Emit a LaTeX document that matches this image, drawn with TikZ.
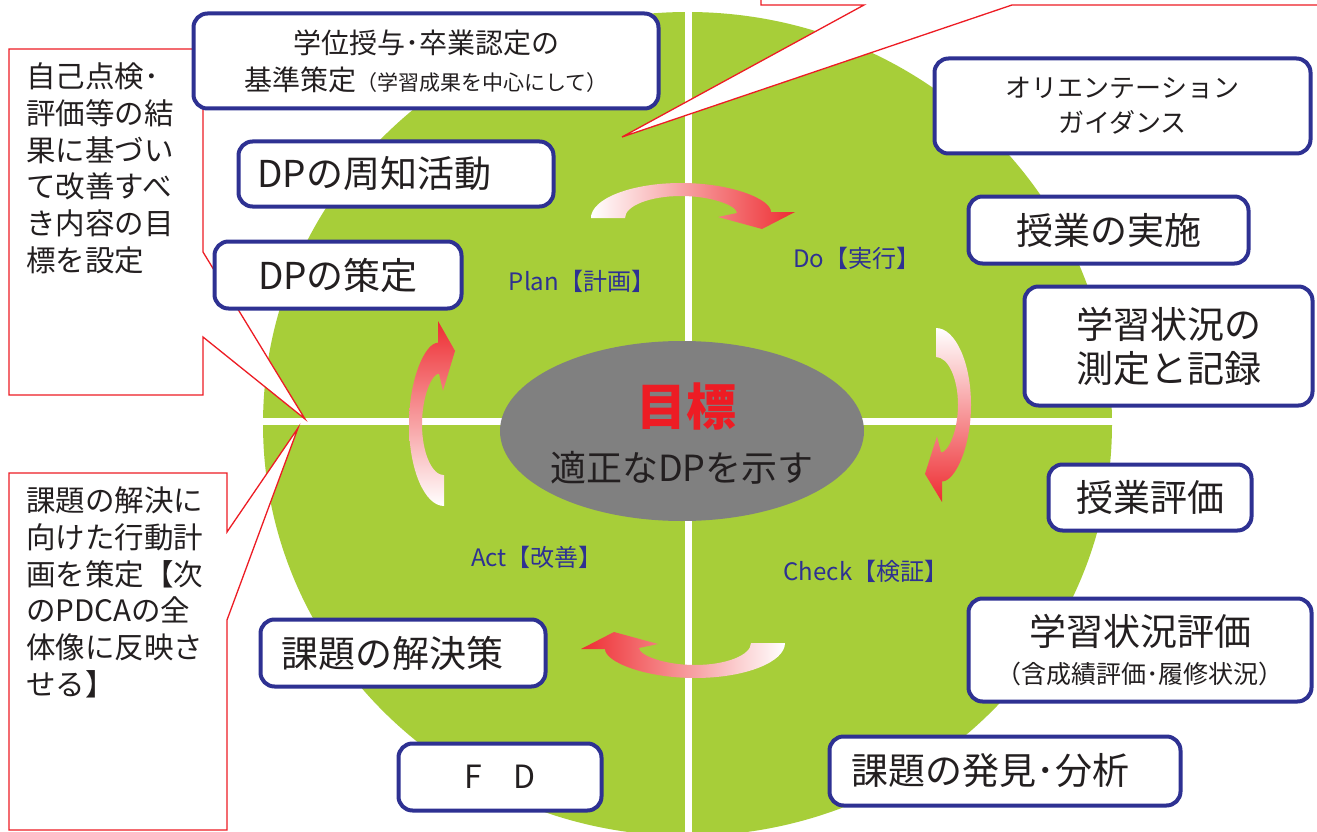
\documentclass[tikz,border=0pt]{standalone}
\usepackage{fontspec}
\setmainfont{Noto Sans CJK JP}
\usetikzlibrary{shapes.geometric}
\definecolor{leaf}{RGB}{167,206,57}
\definecolor{navy}{RGB}{46,49,146}
\definecolor{ink}{RGB}{35,31,32}
\definecolor{calred}{RGB}{237,28,36}
\definecolor{arrred}{RGB}{238,45,50}
\definecolor{goalgray}{RGB}{128,128,128}
\begin{document}
\begin{tikzpicture}[x=1pt,y=-1pt,
  box/.style={draw=navy, line width=4pt, fill=white, rounded corners=14pt, text=ink, inner sep=0pt, align=center},
  callout/.style={draw=calred, line width=1.3pt, fill=white, line join=miter},
  note/.style={text=ink, anchor=north west, inner sep=0pt, align=left, font=\fontsize{29.5}{36.7}\selectfont},
  phase/.style={text=navy, font=\fontsize{24}{28}\selectfont, inner sep=0pt},
  bigtxt/.style={font=\fontsize{37}{44}\selectfont},
  band/.style={draw=none}
]
\useasboundingbox (0,0) rectangle (1317,832);
\clip (0,0) rectangle (1317,832);
\fill[white] (0,0) rectangle (1317,832);

% green disc and white cross
\fill[leaf] (687.5,424) ellipse [x radius=424.5pt, y radius=412pt];
\draw[white, line width=7pt] (688,0) -- (688,832);
\draw[white, line width=7pt] (255,421) -- (1120,421);

% callouts
\draw[callout] (9,49) -- (203,49) -- (203,252) -- (305,419) -- (203,337) -- (203,395) -- (9,395) -- cycle;
\draw[callout] (9,473) -- (227,473) -- (227,532) -- (298,428) -- (227,620) -- (227,830) -- (9,830) -- cycle;
\draw[callout] (761,-10) -- (761,5) -- (864,5) -- (622,137) -- (1012,5) -- (1330,5) -- (1330,-10);

\node[note] (selfcheck) at (26,62.6) {自己点検･\\評価等の結\\果に基づい\\て改善すべ\\き内容の目\\標を設定};
\node[note] (actionplan) at (26,486.6) {課題の解決に\\向けた行動計\\画を策定【次\\のPDCAの全\\体像に反映さ\\せる】};

% centre goal
\node[ellipse, fill=goalgray, minimum width=364pt, minimum height=180pt, inner sep=0pt] (goal) at (682,431) {};
\node[text=calred, font=\fontsize{50}{60}\selectfont\bfseries, inner sep=0pt] (goaltitle) at (686,407) {目標};
\node[text=ink, font=\fontsize{36}{40}\selectfont, inner sep=0pt] (goalsub) at (682,468) {適正なDPを示す};

% cycle arrows
\shade[band, left color=white, right color=arrred]
 (591,218) .. controls (591,198.7) and (631.3,183) .. (681,183) .. controls (730.7,183) and (771,199) .. (771,212) -- (795,212) -- (762,229) -- (718,217) -- (737,213) .. controls (737,205.8) and (711.9,196) .. (681,196) .. controls (650.1,196) and (625,205.8) .. (625,218) -- cycle;
\shade[band, top color=white, bottom color=arrred]
 (936,328) .. controls (955.3,328) and (971,362.4) .. (971,404.8) .. controls (971,447.2) and (955,481.5) .. (942,481.5) -- (942,502) -- (925,473.9) -- (937,436.3) -- (941,452.5) .. controls (948.2,452.5) and (958,431.1) .. (958,404.8) .. controls (958,378.4) and (948.2,357) .. (936,357) -- cycle;
\shade[band, left color=arrred, right color=white]
 (785,643) .. controls (785,662.3) and (744.7,678) .. (695,678) .. controls (645.3,678) and (605,662) .. (605,649) -- (581,649) -- (614,632) -- (658,644) -- (639,648) .. controls (639,655.2) and (664.1,665) .. (695,665) .. controls (725.9,665) and (751,655.2) .. (751,643) -- cycle;
\shade[band, top color=arrred, bottom color=white]
 (444,506) .. controls (424.7,506) and (409,469.4) .. (409,424.4) .. controls (409,379.3) and (425,342.7) .. (438,342.7) -- (438,321) -- (455,350.9) -- (443,390.8) -- (439,373.6) .. controls (431.8,373.6) and (422,396.3) .. (422,424.4) .. controls (422,452.4) and (431.8,475.2) .. (444,475.2) -- cycle;

% phase labels
\node[phase] (plan) at (582,281) {Plan【計画】};
\node[phase] (do) at (857,258) {Do【実行】};
\node[phase] (check) at (866,571) {Check【検証】};
\node[phase] (act) at (537,557) {Act【改善】};

% boxes
\node[box, minimum width=465pt, minimum height=95pt, font=\fontsize{28}{37}\selectfont] (degree) at (426,61) {学位授与･卒業認定の\\基準策定{\fontsize{21}{25}\selectfont（学習成果を中心にして）}};
\node[box, bigtxt, minimum width=315pt, minimum height=65pt, text width=277pt, align=left] (inform) at (396,174) {DPの周知活動};
\node[box, bigtxt, minimum width=247pt, minimum height=67pt] (dpset) at (338,275) {DPの策定};
\node[box, minimum width=376pt, minimum height=95pt, font=\fontsize{26}{35}\selectfont] (orient) at (1122.5,106) {オリエンテーション\\ガイダンス};
\node[box, bigtxt, minimum width=280pt, minimum height=67pt] (classdo) at (1108.5,230) {授業の実施};
\node[box, bigtxt, minimum width=288pt, minimum height=119pt] (record) at (1168.5,346) {学習状況の\\測定と記録};
\node[box, bigtxt, minimum width=203pt, minimum height=66pt] (classeval) at (1150,497.5) {授業評価};
\node[box, bigtxt, minimum width=343pt, minimum height=103pt] (status) at (1140,650) {学習状況評価\\[-6pt]{\fontsize{25}{30}\selectfont（含成績評価･履修状況）}};
\node[box, bigtxt, minimum width=351pt, minimum height=69pt, text width=307pt, align=left] (find) at (1005,771) {課題の発見･分析};
\node[box, bigtxt, minimum width=285pt, minimum height=67pt, text width=243pt, align=left] (solution) at (403,653) {課題の解決策};
\node[box, font=\fontsize{32}{38}\selectfont, minimum width=203pt, minimum height=67pt] (fd) at (500,777) {F　D};
\end{tikzpicture}
\end{document}
